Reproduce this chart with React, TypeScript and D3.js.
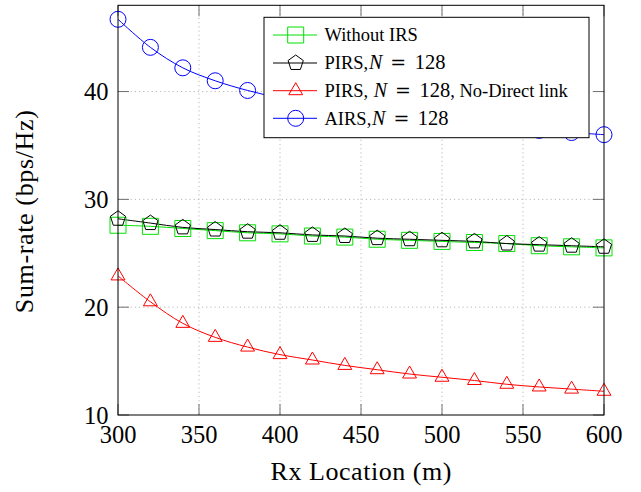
import React from 'react';
import * as d3 from 'd3';

const xValues = [300, 320, 340, 360, 380, 400, 420, 440, 460, 480, 500, 520, 540, 560, 580, 600];
const withoutIRS = [27.6, 27.5, 27.3, 27.1, 26.9, 26.8, 26.6, 26.5, 26.3, 26.2, 26.1, 26.0, 25.9, 25.7, 25.6, 25.5];
const pirs = [28.2, 27.8, 27.4, 27.2, 27.0, 26.9, 26.7, 26.6, 26.4, 26.3, 26.2, 26.1, 25.9, 25.8, 25.7, 25.6];
const pirsNoDirect = [22.9, 20.5, 18.5, 17.2, 16.3, 15.6, 15.1, 14.6, 14.2, 13.8, 13.5, 13.2, 12.85, 12.6, 12.4, 12.2];
const airs = [46.7, 44.1, 42.2, 41.0, 40.1, 39.4, 38.8, 38.3, 37.9, 37.5, 37.2, 36.9, 36.6, 36.4, 36.2, 36.0];

const xTicks = [300, 350, 400, 450, 500, 550, 600];
const yTicks = [10, 20, 30, 40];
const xDomain = [300, 600];
const yDomain = [10, 48];

const xLabel = 'Rx Location (m)';
const yLabel = 'Sum-rate (bps/Hz)';

// k: 't' text, 'i' math italic, 'r' math relation, 'd' math digits
type Seg = { t: string; k: string };
const seriesNames: Seg[][] = [
  [{ t: 'Without IRS', k: 't' }],
  [{ t: 'PIRS,', k: 't' }, { t: 'N', k: 'i' }, { t: '=', k: 'r' }, { t: '128', k: 'd' }],
  [{ t: 'PIRS, ', k: 't' }, { t: 'N', k: 'i' }, { t: '=', k: 'r' }, { t: '128', k: 'd' }, { t: ', No-Direct link', k: 'tt' }],
  [{ t: 'AIRS,', k: 't' }, { t: 'N', k: 'i' }, { t: '=', k: 'r' }, { t: '128', k: 'd' }],
];
const seriesValues = [withoutIRS, pirs, pirsNoDirect, airs];
const seriesColors = ['#00e000', '#000000', '#ff0000', '#0000ff'];
const seriesMarkers = ['square', 'pentagon', 'triangle', 'circle'];

const W = 641, H = 492;
const L = 118, R = 604, T = 5.3, B = 415;

function markerPath(type: string, cx: number, cy: number): string {
  const r = 8;
  if (type === 'square') {
    return `M${cx - r},${cy - r}h${2 * r}v${2 * r}h${-2 * r}Z`;
  }
  if (type === 'circle') {
    return `M${cx - r},${cy}a${r},${r} 0 1,0 ${2 * r},0a${r},${r} 0 1,0 ${-2 * r},0Z`;
  }
  const n = type === 'pentagon' ? 5 : 3;
  const pts: string[] = [];
  for (let k = 0; k < n; k++) {
    const a = -Math.PI / 2 + (k * 2 * Math.PI) / n;
    pts.push(`${cx + r * Math.cos(a)},${cy + r * Math.sin(a)}`);
  }
  return 'M' + pts.join('L') + 'Z';
}

const segStyle: Record<string, any> = {
  t: { fontSize: 18.5, fontStyle: 'normal', dx: 0 },
  tt: { fontSize: 18.5, fontStyle: 'normal', dx: 0 },
  i: { fontSize: 20, fontStyle: 'italic', dx: 0.8 },
  r: { fontSize: 19, fontStyle: 'normal', dx: 8, fontFamily: '"DejaVu Serif", serif' },
  d: { fontSize: 20.5, fontStyle: 'normal', dx: 8.5 },
};

export default function App() {
  const x = d3.scaleLinear().domain(xDomain).range([L, R]);
  const y = d3.scaleLinear().domain(yDomain).range([B, T]);
  const line = d3
    .line<number>()
    .x((_, i) => x(xValues[i]))
    .y((d) => y(d))
    .curve(d3.curveCatmullRom.alpha(0.5));

  const font = '"Liberation Serif", "Times New Roman", serif';
  const legX = 264, legY = 17.3, legW = 325, legH = 120.4;
  const rowY = [35, 63, 90.7, 118.3];

  return (
    <svg width={W} height={H} style={{ position: 'absolute', left: 0, top: 0, background: '#fff' }} fontFamily={font}>
      <rect x={0} y={0} width={W} height={H} fill="#fff" />
      <defs>
        <clipPath id="plotclip">
          <rect x={L} y={T} width={R - L} height={B - T} />
        </clipPath>
      </defs>
      {/* grid */}
      {xTicks.slice(1, -1).map((t) => (
        <line key={'gx' + t} x1={x(t)} x2={x(t)} y1={T} y2={B} stroke="#b8b8b8" strokeWidth={1} strokeDasharray="1.2,3" />
      ))}
      {yTicks.slice(1).map((t) => (
        <line key={'gy' + t} x1={L} x2={R} y1={y(t)} y2={y(t)} stroke="#b8b8b8" strokeWidth={1} strokeDasharray="1.2,3" />
      ))}
      {/* ticks */}
      {xTicks.map((t) => (
        <g key={'tx' + t}>
          <line x1={x(t)} x2={x(t)} y1={B} y2={B - 11} stroke="#707070" strokeWidth={1} />
          <line x1={x(t)} x2={x(t)} y1={T} y2={T + 11} stroke="#707070" strokeWidth={1} />
          <text x={x(t)} y={442.5} textAnchor="middle" fontSize={24.5} fill="#000">{t}</text>
        </g>
      ))}
      {yTicks.map((t) => (
        <g key={'ty' + t}>
          <line x1={L} x2={L + 11} y1={y(t)} y2={y(t)} stroke="#707070" strokeWidth={1} />
          <line x1={R} x2={R - 11} y1={y(t)} y2={y(t)} stroke="#707070" strokeWidth={1} />
          <text x={108.5} y={y(t) + 8.5} textAnchor="end" fontSize={24.5} fill="#000">{t}</text>
        </g>
      ))}
      {/* series */}
      <g clipPath="url(#plotclip)">
        {seriesValues.map((vals, si) => (
          <path key={'s' + si} d={line(vals) || ''} fill="none" stroke={seriesColors[si]} strokeWidth={1} />
        ))}
      </g>
      {seriesValues.map((vals, si) => (
        <g key={'m' + si}>
          {vals.map((v, i) => (
            <path key={i} d={markerPath(seriesMarkers[si], x(xValues[i]), y(v))} fill="none" stroke={seriesColors[si]} strokeWidth={1} />
          ))}
        </g>
      ))}
      {/* frame */}
      <rect x={L} y={T} width={R - L} height={B - T} fill="none" stroke="#000" strokeWidth={1} />
      {/* legend */}
      <g>
        <rect x={legX} y={legY} width={legW} height={legH} fill="#fff" stroke="#000" strokeWidth={1} />
        {seriesNames.map((segs, si) => (
          <g key={'l' + si}>
            <line x1={273} x2={317} y1={rowY[si]} y2={rowY[si]} stroke={seriesColors[si]} strokeWidth={1} />
            <path d={markerPath(seriesMarkers[si], 295.7, rowY[si])} fill="none" stroke={seriesColors[si]} strokeWidth={1} />
            <text x={324.5} y={rowY[si] + 6.3} fill="#000" style={{ whiteSpace: 'pre' }}>
              {segs.map((s, k) => {
                const st = segStyle[s.k];
                return (
                  <tspan key={k} fontSize={st.fontSize} fontStyle={st.fontStyle} dx={st.dx} fontFamily={st.fontFamily || font}>
                    {s.t}
                  </tspan>
                );
              })}
            </text>
          </g>
        ))}
      </g>
      {/* axis labels */}
      <text x={361} y={480} textAnchor="middle" fontSize={26} fill="#000" textLength={181} lengthAdjust="spacing">{xLabel}</text>
      <text transform={`translate(32.5,211.7) rotate(-90)`} textAnchor="middle" fontSize={26} fill="#000" textLength={203} lengthAdjust="spacing">{yLabel}</text>
    </svg>
  );
}
